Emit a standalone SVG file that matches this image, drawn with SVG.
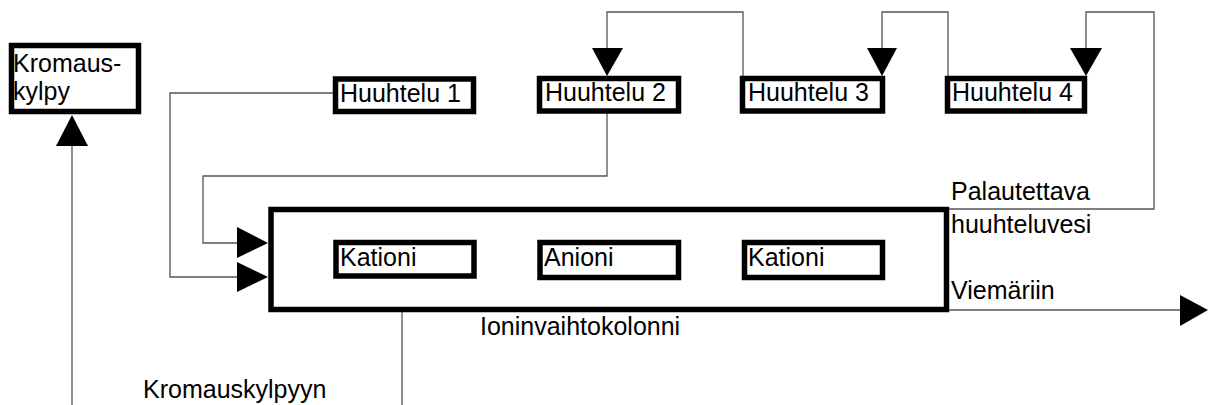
<svg xmlns="http://www.w3.org/2000/svg" width="1208" height="405" viewBox="0 0 1208 405">
<style>
.box{fill:#fff;stroke:#000;stroke-width:5.5}
.big{fill:none;stroke:#000;stroke-width:5.5}
.ln{fill:none;stroke:#555;stroke-width:1.3}
.ah{fill:#000;stroke:none}
text{font-family:"Liberation Sans",Arial,sans-serif;font-size:25px;fill:#000}
</style>
<rect width="1208" height="405" fill="#fff"/>
<g id="connectors">
<polyline class="ln" points="333,93 170,93 170,277 237,277"/>
<polyline class="ln" points="607,113 607,176 203,176 203,243 237,243"/>
<polyline class="ln" points="743,76 743,12 607,12 607,48"/>
<polyline class="ln" points="948,76 948,12 882,12 882,48"/>
<polyline class="ln" points="1086,48 1086,12 1154,12 1154,209 949,209"/>
<polyline class="ln" points="949,310 1180,310"/>
<polyline class="ln" points="72,405 72,146"/>
<polyline class="ln" points="402,312 402,405"/>
<polygon class="ah" points="237,227 268,243 237,258"/>
<polygon class="ah" points="237,262 268,277 237,292"/>
<polygon class="ah" points="592,48 623,48 607,76"/>
<polygon class="ah" points="867,48 897,48 882,76"/>
<polygon class="ah" points="1070,48 1102,48 1086,76"/>
<polygon class="ah" points="1180,295 1208,310 1180,326"/>
<polygon class="ah" points="56,146 88,146 72,115"/>
</g>
<g id="kromauskylpy">
<rect class="box" x="11.5" y="45.5" width="127" height="66"/>
<text x="13" y="72">Kromaus-</text>
<text x="13" y="100">kylpy</text>
</g>
<g id="huuhtelu1">
<rect class="box" x="335.5" y="79" width="138" height="32.5"/>
<text x="340" y="102">Huuhtelu 1</text>
</g>
<g id="huuhtelu2">
<rect class="box" x="539.5" y="78.5" width="139" height="32.5"/>
<text x="545" y="101">Huuhtelu 2</text>
</g>
<g id="huuhtelu3">
<rect class="box" x="742.5" y="78.5" width="140" height="32.5"/>
<text x="748" y="101">Huuhtelu 3</text>
</g>
<g id="huuhtelu4">
<rect class="box" x="947.5" y="78.5" width="137" height="32.5"/>
<text x="952" y="101">Huuhtelu 4</text>
</g>
<g id="ioninvaihtokolonni">
<rect class="big" x="271" y="209.5" width="675.5" height="100"/>
<text x="480" y="335">Ioninvaihtokolonni</text>
</g>
<g id="kationi1">
<rect class="box" x="336" y="242.5" width="138" height="33.5"/>
<text x="340" y="266">Kationi</text>
</g>
<g id="anioni">
<rect class="box" x="540" y="242.5" width="138.5" height="35"/>
<text x="544" y="266">Anioni</text>
</g>
<g id="kationi2">
<rect class="box" x="744.5" y="242.5" width="138" height="35"/>
<text x="748" y="266">Kationi</text>
</g>
<g id="labels">
<text x="951" y="200">Palautettava</text>
<text x="951" y="233">huuhteluvesi</text>
<text x="951" y="299">Viemäriin</text>
<text x="143" y="398">Kromauskylpyyn</text>
</g>
</svg>
